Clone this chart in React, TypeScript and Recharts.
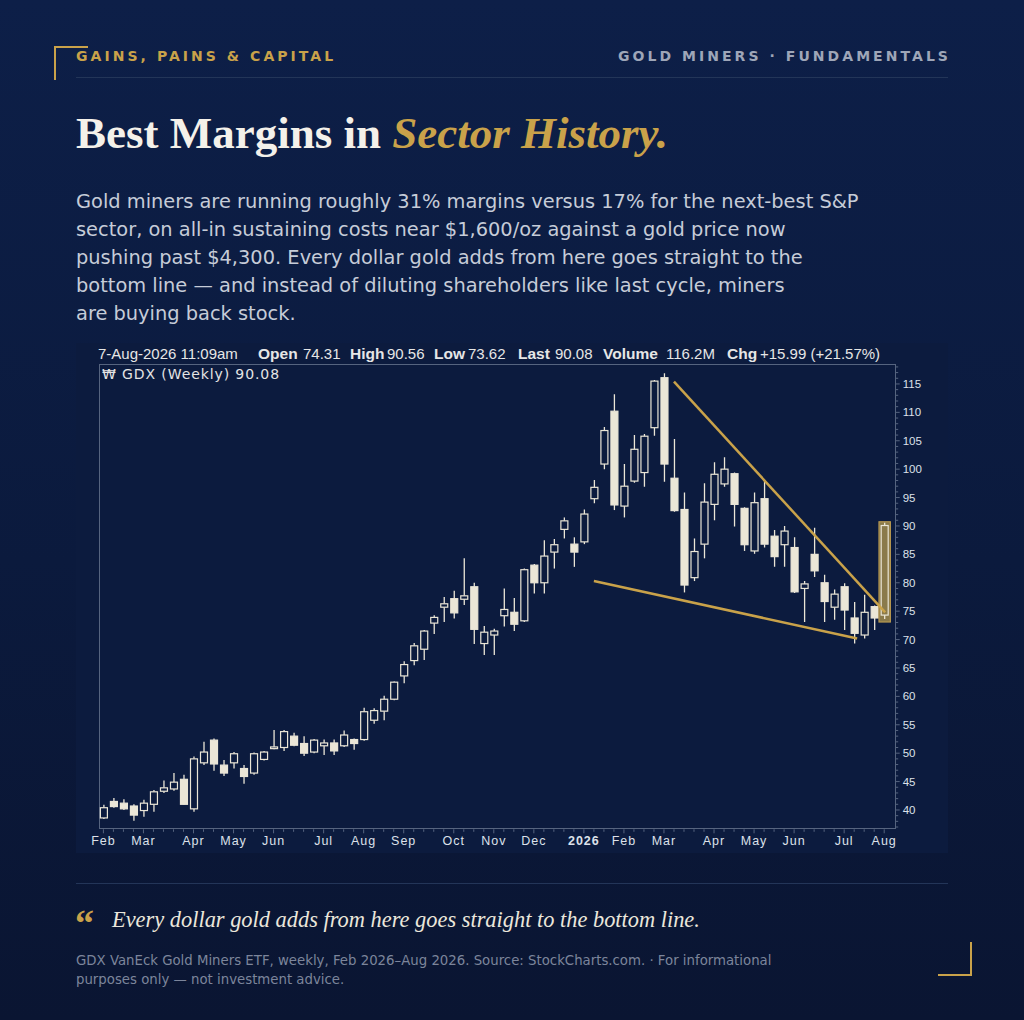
import React from "react";
import { ComposedChart, Bar, XAxis, YAxis, ReferenceLine } from "recharts";

// weekly GDX candles, Feb 2025 -> Aug 2026
const OPEN = [
  38.6, 41.5, 41.2, 40.7, 39.9, 41.0, 43.3, 43.7, 45.4, 40.2,
  48.3, 52.3, 47.9, 48.3, 47.3, 46.5, 48.9, 50.8, 51.0, 53.0,
  51.7, 50.2, 51.3, 51.8, 51.3, 52.4, 52.4, 55.8, 57.4, 59.5,
  63.6, 66.3, 68.3, 72.9, 75.7, 77.2, 77.1, 79.3, 69.3, 70.8,
  74.2, 74.8, 73.3, 83.1, 80.0, 85.4, 89.4, 86.8, 87.2, 94.8,
  100.9, 110.2, 93.5, 97.9, 99.4, 107.3, 116.1, 98.4, 92.9, 80.9,
  86.8, 93.8, 97.4, 99.2, 93.1, 85.6, 94.8, 88.2, 86.7, 86.2,
  79.0, 85.0, 80.0, 75.7, 79.3, 73.8, 70.8, 75.8, 74.31,
];
const HIGH = [
  40.9, 42.1, 41.9, 41.0, 41.8, 43.5, 45.2, 46.5, 46.2, 49.4,
  52.0, 52.6, 48.8, 50.2, 47.9, 50.1, 50.4, 54.1, 54.1, 53.6,
  53.0, 52.5, 52.4, 52.4, 54.0, 52.6, 58.0, 57.9, 60.1, 62.6,
  66.2, 69.4, 71.7, 74.3, 77.5, 78.6, 84.3, 80.0, 72.4, 71.9,
  79.0, 77.3, 82.5, 83.3, 87.5, 87.7, 91.5, 88.0, 92.9, 98.1,
  107.4, 113.2, 100.9, 106.0, 106.2, 115.7, 116.9, 105.3, 95.9, 87.8,
  97.5, 101.2, 102.1, 99.4, 93.3, 95.9, 97.8, 89.3, 90.0, 88.0,
  80.3, 89.7, 81.4, 78.8, 79.9, 76.6, 77.9, 76.0, 90.56,
];
const LOW = [
  38.4, 40.4, 40.0, 38.1, 38.8, 39.7, 43.0, 43.4, 40.9, 39.7,
  47.9, 46.9, 46.0, 47.3, 44.6, 46.2, 48.7, 50.7, 50.4, 51.2,
  49.5, 50.0, 49.7, 49.7, 51.1, 50.6, 52.2, 55.2, 55.8, 59.3,
  62.3, 65.5, 66.4, 71.0, 73.1, 73.7, 76.1, 69.2, 67.3, 67.3,
  72.3, 71.5, 73.1, 78.1, 78.1, 82.5, 87.8, 82.8, 86.8, 94.0,
  100.0, 92.8, 91.5, 97.6, 96.9, 105.9, 97.8, 92.5, 78.3, 80.3,
  84.3, 91.0, 96.9, 89.9, 85.6, 85.1, 86.2, 82.8, 82.8, 78.2,
  73.1, 81.0, 73.1, 73.5, 71.7, 69.3, 70.2, 71.7, 73.62,
];
const CLOSE = [
  40.4, 40.6, 40.2, 39.1, 41.2, 43.2, 43.9, 44.9, 41.0, 49.0,
  50.2, 48.1, 46.5, 49.9, 45.9, 49.9, 50.2, 51.1, 53.8, 51.4,
  50.0, 52.3, 51.8, 50.4, 53.2, 51.7, 57.3, 57.5, 59.5, 62.5,
  65.6, 68.9, 71.5, 73.9, 76.3, 74.7, 77.7, 71.8, 71.3, 71.5,
  75.3, 72.7, 82.3, 80.0, 84.7, 86.7, 90.9, 85.4, 92.1, 96.8,
  106.8, 93.7, 97.0, 103.5, 105.8, 115.5, 100.9, 92.7, 79.6, 85.5,
  94.2, 99.1, 100.0, 93.8, 86.7, 94.1, 86.8, 84.6, 89.1, 78.4,
  79.8, 82.1, 76.7, 78.0, 75.2, 71.1, 74.8, 73.8, 90.08,
];

// week index of the first week of each month, and its label
const MONTH_TICK_INDEX = [0, 4, 9, 13, 17, 22, 26, 30, 35, 39, 43, 48, 52, 56, 61, 65, 69, 74, 78];
const MONTH_LABELS = ["Feb", "Mar", "Apr", "May", "Jun", "Jul", "Aug", "Sep", "Oct", "Nov", "Dec", "2026", "Feb", "Mar", "Apr", "May", "Jun", "Jul", "Aug"];
const PRICE_LABELS = [40, 45, 50, 55, 60, 65, 70, 75, 80, 85, 90, 95, 100, 105, 110, 115];

// drawn trendlines (week index, price)
const UPPER_TREND = [{ i: 57, p: 115.4 }, { i: 78.1, p: 74.8 }];
const LOWER_TREND = [{ i: 49, p: 80.3 }, { i: 75.3, p: 70.2 }];

const INFO = [
  { left: 98, text: "7-Aug-2026 11:09am", bold: false },
  { left: 258, text: "Open", bold: true },
  { left: 303, text: "74.31", bold: false },
  { left: 350, text: "High", bold: true },
  { left: 387, text: "90.56", bold: false },
  { left: 434, text: "Low", bold: true },
  { left: 468, text: "73.62", bold: false },
  { left: 518, text: "Last", bold: true },
  { left: 555, text: "90.08", bold: false },
  { left: 603, text: "Volume", bold: true },
  { left: 666, text: "116.2M", bold: false },
  { left: 727, text: "Chg", bold: true },
  { left: 760, text: "+15.99 (+21.57%)", bold: false },
];

const GOLD = "#c9a24a";
const PANEL = "#0c1b3e";
const CANDLE = "#ebe6d7";
const AXIS = "#56647f";

const data = OPEN.map((o, i) => ({ i, open: o, high: HIGH[i], low: LOW[i], close: CLOSE[i] }));
const weekTicks = data.map((d) => d.i);
const priceTicks: number[] = [];
for (let p = 37; p <= 118; p++) priceTicks.push(p);

const Candle = (props: any) => {
  const { x, y, width, height, payload, index } = props;
  if (payload == null) return null;
  const cx = x + width / 2;
  const top = Math.min(y, y + height);
  const h = Math.abs(height);
  const { open, close, high, low } = payload;
  const py = (v: number) => (high === low ? top : top + ((high - v) / (high - low)) * h);
  const up = close >= open;
  const bTop = py(Math.max(open, close));
  const bBot = py(Math.min(open, close));
  const bw = 7;
  const last = index === data.length - 1;
  return (
    <g>
      {last && (
        <rect x={cx - 5.7} y={top - 1} width={11.4} height={h + 4} fill="#8a7a4b" stroke="#b7984f" strokeWidth={1.2} />
      )}
      <line x1={cx} x2={cx} y1={top} y2={bTop} stroke={CANDLE} strokeWidth={1.3} />
      <line x1={cx} x2={cx} y1={bBot} y2={top + h} stroke={CANDLE} strokeWidth={1.3} />
      <rect
        x={cx - bw / 2}
        y={bTop}
        width={bw}
        height={Math.max(bBot - bTop, 1.2)}
        fill={up ? (last ? "#8a7a4b" : PANEL) : CANDLE}
        stroke={CANDLE}
        strokeWidth={1.2}
      />
    </g>
  );
};

const XTick = ({ x, y, payload }: any) => {
  const k = MONTH_TICK_INDEX.indexOf(payload.value);
  return (
    <g>
      <line x1={x} x2={x} y1={y} y2={y + (k >= 0 ? 4 : 2.5)} stroke={AXIS} />
      {k >= 0 && (
        <text
          x={x}
          y={y + 16}
          textAnchor="middle"
          fill="#dde1ea"
          fontSize={12.5}
          letterSpacing={1}
          fontWeight={MONTH_LABELS[k] === "2026" ? 700 : 400}
          fontFamily="Liberation Sans"
        >
          {MONTH_LABELS[k]}
        </text>
      )}
    </g>
  );
};

const YTick = ({ x, y, payload }: any) => {
  const major = PRICE_LABELS.includes(payload.value);
  return (
    <g>
      <line x1={x} x2={x + (major ? 4 : 2.5)} y1={y} y2={y} stroke={AXIS} />
      {major && (
        <text x={x + 7} y={y + 4} textAnchor="start" fill="#dde1ea" fontSize={11.5} fontFamily="Liberation Sans">
          {payload.value}
        </text>
      )}
    </g>
  );
};

export default function App() {
  return (
    <div
      style={{
        position: "absolute",
        left: 0,
        top: 0,
        width: 1024,
        height: 1020,
        overflow: "hidden",
        background: "linear-gradient(180deg, #0d1f48 0%, #0b1a3d 55%, #0a1532 100%)",
        fontFamily: "DejaVu Sans",
      }}
    >
      {/* corner brackets */}
      <div style={{ position: "absolute", left: 54, top: 46, width: 32, height: 32, borderLeft: `2px solid ${GOLD}`, borderTop: `2px solid ${GOLD}` }} />
      <div style={{ position: "absolute", left: 938, top: 942, width: 32, height: 32, borderRight: `2px solid ${GOLD}`, borderBottom: `2px solid ${GOLD}` }} />

      <div style={{ position: "absolute", left: 76, top: 46, lineHeight: "20px", fontSize: 14, fontWeight: 700, letterSpacing: 3.05, color: GOLD }}>
        GAINS, PAINS &amp; CAPITAL
      </div>
      <div style={{ position: "absolute", right: 73, top: 46, lineHeight: "20px", fontSize: 14, fontWeight: 700, letterSpacing: 3.05, color: "#9ea6b8" }}>
        GOLD MINERS · FUNDAMENTALS
      </div>
      <div style={{ position: "absolute", left: 76, top: 77, width: 872, height: 1, background: "#233558" }} />

      <div
        style={{
          position: "absolute",
          left: 76,
          top: 111,
          fontFamily: "Liberation Serif",
          fontWeight: 700,
          fontSize: 45,
          lineHeight: "45px",
          color: "#f4f1ea",
          whiteSpace: "nowrap",
        }}
      >
        Best Margins in <span style={{ fontStyle: "italic", color: GOLD }}>Sector History.</span>
      </div>

      <div style={{ position: "absolute", left: 76, top: 188, fontSize: 19.4, lineHeight: "28px", color: "#c6ccd8", whiteSpace: "nowrap" }}>
        Gold miners are running roughly 31% margins versus 17% for the next-best S&amp;P
        <br />
        sector, on all-in sustaining costs near $1,600/oz against a gold price now
        <br />
        pushing past $4,300. Every dollar gold adds from here goes straight to the
        <br />
        bottom line — and instead of diluting shareholders like last cycle, miners
        <br />
        are buying back stock.
      </div>

      {/* chart panel */}
      <div style={{ position: "absolute", left: 76, top: 343, width: 872, height: 510, background: PANEL }} />
      {INFO.map((t) => (
        <div
          key={t.left}
          style={{
            position: "absolute",
            left: t.left,
            top: 346,
            lineHeight: "16px",
            fontFamily: "Liberation Sans",
            fontSize: t.bold ? 15.5 : 15,
            fontWeight: t.bold ? 700 : 400,
            color: "#e6e6e6",
            whiteSpace: "nowrap",
          }}
        >
          {t.text}
        </div>
      ))}
      <div
        style={{
          position: "absolute",
          left: 98.7,
          top: 363.5,
          width: 797,
          height: 465.8,
          boxSizing: "border-box",
          border: `1px solid ${AXIS}`,
        }}
      />
      <div style={{ position: "absolute", left: 102, top: 366, lineHeight: "16px", fontSize: 14, letterSpacing: 0.9, color: "#e4e4e4", whiteSpace: "nowrap" }}>
        ₩ GDX (Weekly) 90.08
      </div>
      <div style={{ position: "absolute", left: 76, top: 343 }}>
        <ComposedChart width={872} height={510} data={data} margin={{ top: 20.5, right: 12.3, bottom: 0, left: 22.7 }}>
          <XAxis
            dataKey="i"
            type="number"
            domain={[-0.47, 79.15]}
            allowDataOverflow
            ticks={weekTicks}
            interval={0}
            height={23.7}
            tickSize={0}
            tickMargin={0}
            axisLine={false}
            tickLine={false}
            tick={<XTick />}
          />
          <YAxis
            orientation="right"
            type="number"
            domain={[36.6, 118.6]}
            allowDataOverflow
            ticks={priceTicks}
            interval={0}
            width={40}
            tickSize={0}
            tickMargin={0}
            axisLine={false}
            tickLine={false}
            tick={<YTick />}
          />
          <Bar dataKey={(d: any) => [d.low, d.high]} barSize={7} shape={<Candle />} isAnimationActive={false} />
          <ReferenceLine
            segment={[{ x: UPPER_TREND[0].i, y: UPPER_TREND[0].p }, { x: UPPER_TREND[1].i, y: UPPER_TREND[1].p }]}
            stroke={GOLD}
            strokeWidth={2.5}
          />
          <ReferenceLine
            segment={[{ x: LOWER_TREND[0].i, y: LOWER_TREND[0].p }, { x: LOWER_TREND[1].i, y: LOWER_TREND[1].p }]}
            stroke={GOLD}
            strokeWidth={2.5}
          />
        </ComposedChart>
      </div>

      <div style={{ position: "absolute", left: 76, top: 883, width: 872, height: 1, background: "#233558" }} />
      <div style={{ position: "absolute", left: 75, top: 904, fontFamily: "Liberation Serif", fontWeight: 700, fontSize: 38, lineHeight: "38px", color: GOLD }}>
        “
      </div>
      <div
        style={{
          position: "absolute",
          left: 112,
          top: 907,
          fontFamily: "Liberation Serif",
          fontStyle: "italic",
          fontSize: 22.4,
          lineHeight: "26px",
          color: "#ebe7dc",
          whiteSpace: "nowrap",
        }}
      >
        Every dollar gold adds from here goes straight to the bottom line.
      </div>
      <div style={{ position: "absolute", left: 76, top: 951, fontSize: 13.3, lineHeight: "19px", color: "#7c859b", whiteSpace: "nowrap" }}>
        GDX VanEck Gold Miners ETF, weekly, Feb 2026–Aug 2026. Source: StockCharts.com. · For informational
        <br />
        purposes only — not investment advice.
      </div>
    </div>
  );
}
